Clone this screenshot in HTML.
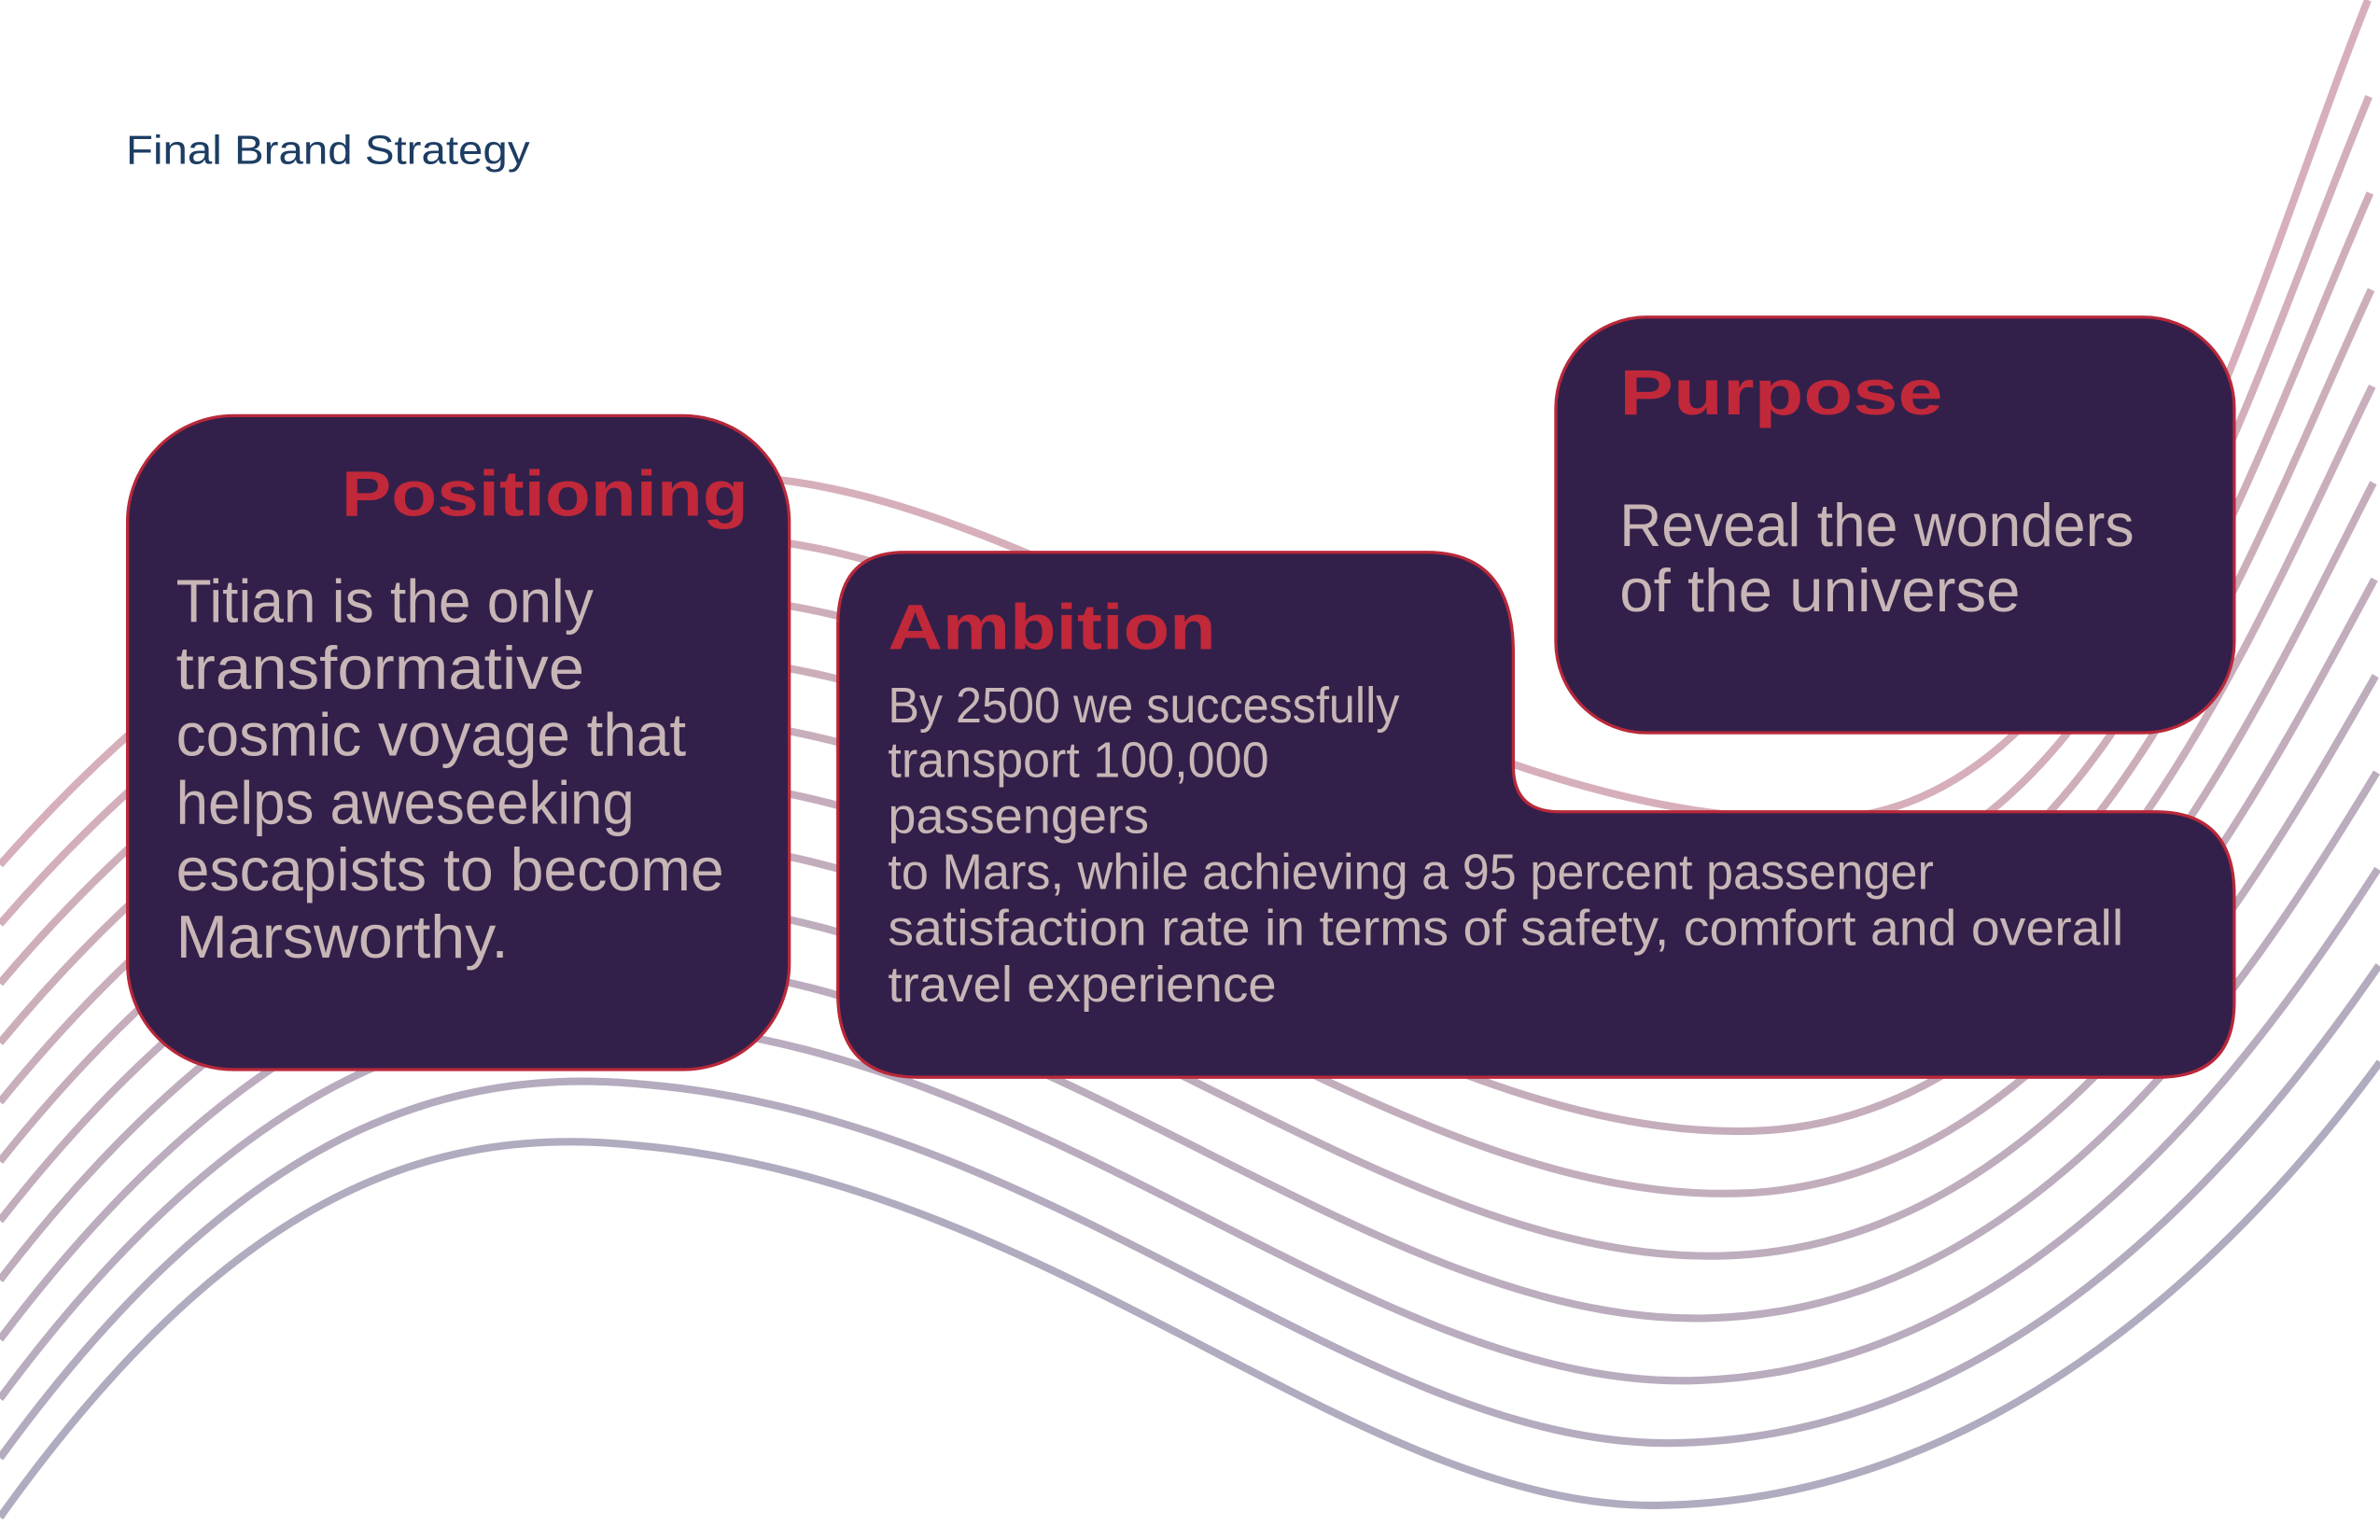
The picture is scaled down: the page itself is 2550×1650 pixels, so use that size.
<!DOCTYPE html>
<html><head><meta charset="utf-8"><style>
html,body{margin:0;padding:0;background:#fff;width:2550px;height:1650px;overflow:hidden}
svg{display:block}
text{font-family:"Liberation Sans Narrow","Liberation Sans",sans-serif}
.b{fill:#c8b5b6}
.h{fill:#c1283a;font-family:"Liberation Sans",sans-serif;font-weight:bold}
</style></head><body>
<svg id="s" width="2550" height="1650" viewBox="0 0 1568 1015" preserveAspectRatio="none" xmlns="http://www.w3.org/2000/svg">
<g id="waves" fill="none" stroke-width="5"></g>
<text x="83" y="108" font-size="27" fill="#1d3d63" font-family="Liberation Sans" textLength="266" lengthAdjust="spacingAndGlyphs">Final Brand Strategy</text>

<rect x="84" y="274" width="436" height="431" rx="70" fill="#32204a" stroke="#b8283a" stroke-width="2"/>
<text class="h" x="225" y="340" font-size="42" textLength="268" lengthAdjust="spacingAndGlyphs">Positioning</text>
<g class="b" font-size="40">
<text x="116" y="410" textLength="275" lengthAdjust="spacingAndGlyphs">Titian is the only</text>
<text x="116" y="454" textLength="269" lengthAdjust="spacingAndGlyphs">transformative</text>
<text x="116" y="498" textLength="336" lengthAdjust="spacingAndGlyphs">cosmic voyage that</text>
<text x="116" y="543" textLength="302" lengthAdjust="spacingAndGlyphs">helps aweseeking</text>
<text x="116" y="587" textLength="361" lengthAdjust="spacingAndGlyphs">escapists to become</text>
<text x="116" y="631" textLength="219" lengthAdjust="spacingAndGlyphs">Marsworthy.</text>
</g>

<rect x="1025" y="209" width="447" height="274" rx="60" fill="#32204a" stroke="#b8283a" stroke-width="2"/>
<text class="h" x="1067" y="273" font-size="42" textLength="213" lengthAdjust="spacingAndGlyphs">Purpose</text>
<text class="b" x="1067" y="360" font-size="40" textLength="339" lengthAdjust="spacingAndGlyphs">Reveal the wonders</text>
<text class="b" x="1067" y="403" font-size="40" textLength="264" lengthAdjust="spacingAndGlyphs">of the universe</text>

<path d="M596,364 L940,364 Q997,364 997,430 L997,505 Q997,535 1027,535 L1420,535 Q1472,535 1472,590 L1472,660 Q1472,710 1422,710 L605,710 Q552,710 552,655 L552,412 Q552,364 596,364 Z" fill="#32204a" stroke="#b8283a" stroke-width="2"/>
<text class="h" x="585" y="428" font-size="42" textLength="216" lengthAdjust="spacingAndGlyphs">Ambition</text>
<g class="b" font-size="33">
<text x="585" y="476" textLength="337" lengthAdjust="spacingAndGlyphs">By 2500 we successfully</text>
<text x="585" y="512" textLength="251" lengthAdjust="spacingAndGlyphs">transport 100,000</text>
<text x="585" y="549" textLength="172" lengthAdjust="spacingAndGlyphs">passengers</text>
<text x="585" y="586" textLength="689" lengthAdjust="spacingAndGlyphs">to Mars, while achieving a 95 percent passenger</text>
<text x="585" y="623" textLength="814" lengthAdjust="spacingAndGlyphs">satisfaction rate in terms of safety, comfort and overall</text>
<text x="585" y="660" textLength="256" lengthAdjust="spacingAndGlyphs">travel experience</text>
</g>
</svg>
<script>
var T=[[0,570],[150,400],[330,300],[500,315],[700,330],[950,545],[1200,540],[1400,535],[1480,200],[1560,0]];
var B=[[0,1000],[150,790],[280,740],[420,755],[700,780],[900,1000],[1100,992],[1320,985],[1480,820],[1568,700]];
var g=document.getElementById('waves');
var n=12,c1=[230,177,184],c2=[177,171,191];
for(var i=0;i<n;i++){var t=i/(n-1),P=T.map(function(p,k){return [p[0]+(B[k][0]-p[0])*t,p[1]+(B[k][1]-p[1])*t]});
var d='M'+P[0]+' C'+P[1]+' '+P[2]+' '+P[3]+' C'+P[4]+' '+P[5]+' '+P[6]+' C'+P[7]+' '+P[8]+' '+P[9];
var e=document.createElementNS('http://www.w3.org/2000/svg','path');e.setAttribute('d',d);
var col=c1.map(function(v,k){return Math.round(v+(c2[k]-v)*(0.3+0.7*t))});
e.setAttribute('stroke','rgb('+col+')');g.appendChild(e);}
</script>
</body></html>
